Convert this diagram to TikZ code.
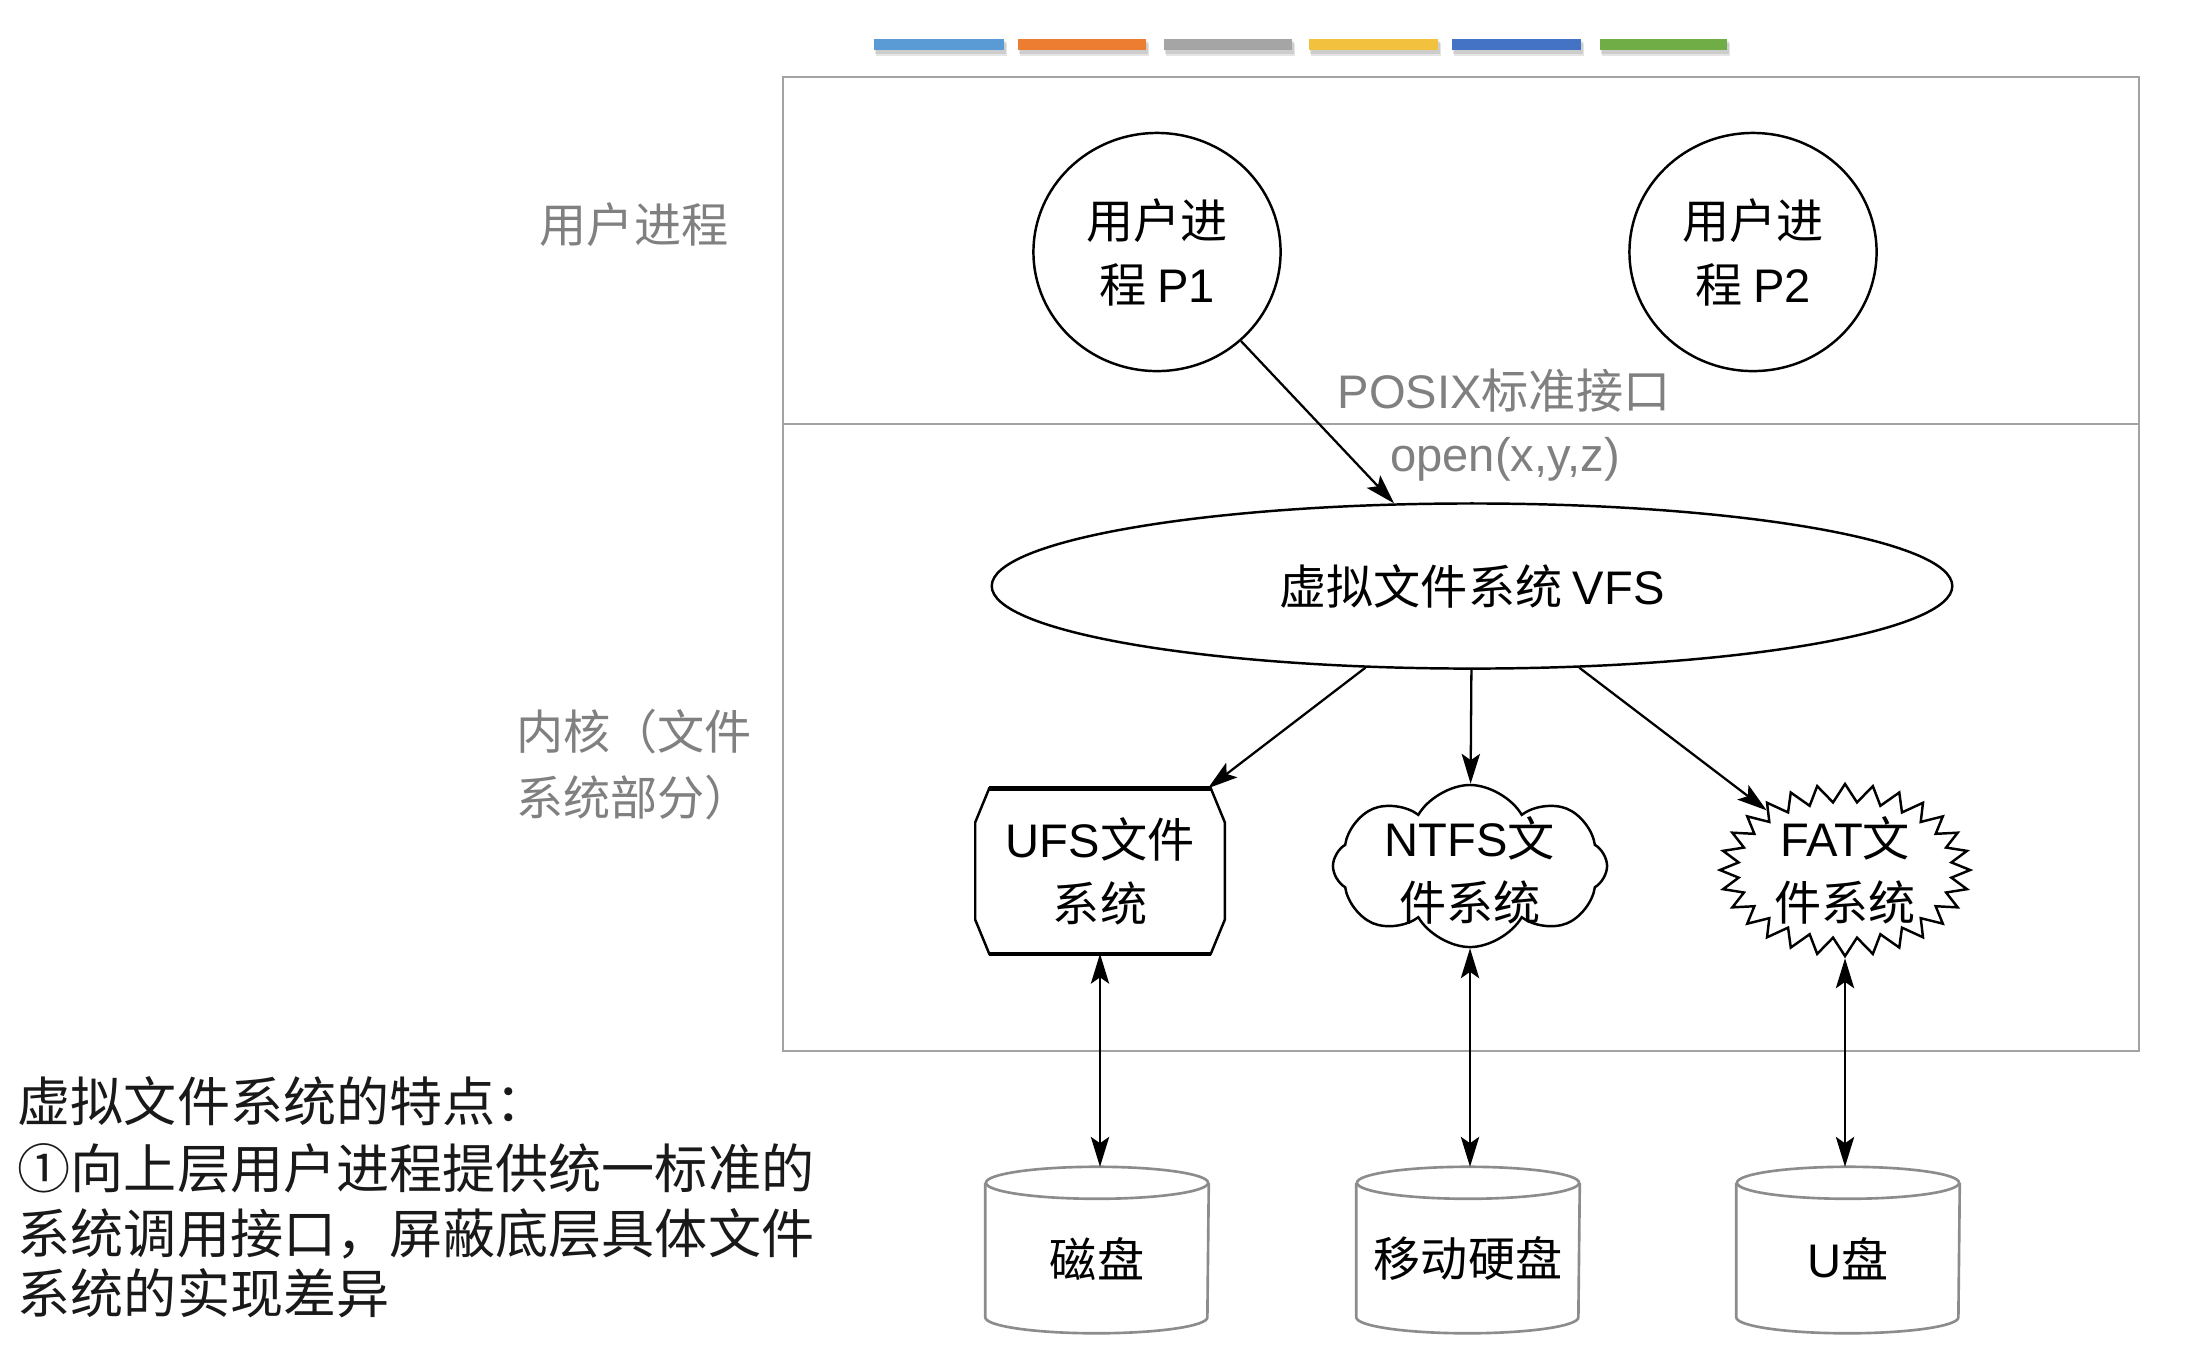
\documentclass[tikz,border=0pt]{standalone}
\usepackage{fontspec}
\setmainfont{Noto Sans CJK SC}
\newfontfamily\lat{Liberation Sans}
\usetikzlibrary{shapes.geometric,shapes.symbols,calc,arrows.meta}
\definecolor{framegray}{HTML}{A3A3A3}
\definecolor{labgray}{HTML}{808080}
\definecolor{cylgray}{HTML}{8C8C8C}
\definecolor{barA}{HTML}{5B9BD5}
\definecolor{barB}{HTML}{ED7D31}
\definecolor{barC}{HTML}{A5A5A5}
\definecolor{barD}{HTML}{F2C13E}
\definecolor{barE}{HTML}{4472C4}
\definecolor{barF}{HTML}{70AD47}
\newcommand\drawcyl[1]{%
  \draw[cylst] ($(#1.north west)+(0,16)$) -- ($(#1.south west)+(0,-16)$)
    arc[start angle=180,end angle=360,x radius=1.11cm,y radius=0.16cm]
    -- ($(#1.north east)+(0,16)$);
  \draw[cylst] ($(#1.north)+(0,16)$) ellipse[x radius=1.11cm,y radius=0.16cm];
}
\newcommand\lowered[1]{\raisebox{-2.4pt}[\height][\depth]{#1}}
\begin{document}
\begin{tikzpicture}[x=0.01cm,y=-0.01cm,
  nodefont/.style={font=\fontsize{13.4}{18.2}\selectfont},
  lab/.style={text=labgray,font=\fontsize{13.4}{18.8}\selectfont,inner sep=0pt},
  note/.style={text=black!90,font=\fontsize{15.1}{18}\selectfont,inner sep=0pt,anchor=west},
  proc/.style={ellipse,draw,line width=0.7pt,minimum width=2.47cm,minimum height=2.38cm,
    inner sep=0pt,align=center,nodefont},
  framest/.style={draw=framegray,line width=0.75pt},
  cylst/.style={draw=cylgray,line width=0.75pt},
  shp/.style={line width=0.7pt},
  disk/.style={nodefont,minimum width=2.22cm,minimum height=1.65cm,inner sep=0pt},
  tip/.tip={Stealth[length=8.5pt,width=5.2pt,inset=1.8pt]},
  arr/.style={-tip,line width=0.65pt},
  darr/.style={tip-tip,line width=0.65pt}]
\useasboundingbox (0,0) rectangle (2204,1356);
\fill[white] (0,0) rectangle (2204,1356);

% colour bars
\foreach \a/\b/\c in {874/1004/barA,1018/1146/barB,1164/1292/barC,1309/1438/barD,1452/1581/barE,1600/1727/barF}{
  \fill[black,opacity=0.10] (\a+1,41) rectangle (\b+2,54);
  \fill[black,opacity=0.10] (\a+2,43) rectangle (\b+3,56);
  \fill[\c] (\a,39) rectangle (\b,50);
}

% frame
\draw[framest] (783,77) rectangle (2139,1051);
\draw[framest] (783,424) -- (2139,424);

% side labels
\node[lab] (lu) at (634,225) {用户进程};
\node[lab,align=left] (lk) at (634,765) {内核（文件\\系统部分）};

% user processes
\node[proc] (p1) at (1157,252) {用户进\\程 {\lat P1}};
\node[proc] (p2) at (1753,252) {用户进\\程 {\lat P2}};

\node[lab] (posix) at (1504,391) {{\lat POSIX}标准接口};
\node[lab] (open) at (1505,459) {\lat open(x,y,z)};

% VFS
\node[ellipse,draw,line width=0.7pt,minimum width=9.6cm,minimum height=1.65cm,inner sep=0pt,nodefont] (vfs) at (1472,586) {虚拟文件系统 {\lat VFS}};

% UFS
\node[minimum width=2.48cm,minimum height=1.64cm,inner sep=0pt,align=center,nodefont] (ufs) at (1100,871) {{\lat UFS}文件\\系统};
\draw[shp] ($(ufs.north west)+(14,0)$) -- ($(ufs.north east)+(-14,0)$) -- ($(ufs.north east)+(0,34)$)
  -- ($(ufs.south east)+(0,-34)$) -- ($(ufs.south east)+(-14,0)$) -- ($(ufs.south west)+(14,0)$)
  -- ($(ufs.south west)+(0,-34)$) -- ($(ufs.north west)+(0,34)$) -- cycle;
\draw[line width=1.3pt] ($(ufs.north west)+(14,0)$) -- ($(ufs.north east)+(-14,0)$);
\draw[line width=1.3pt] ($(ufs.south west)+(14,0)$) -- ($(ufs.south east)+(-14,0)$);

% NTFS cloud
\node[cloud,draw,shp,cloud puffs=8,cloud puff arc=120,minimum width=2.74cm,minimum height=1.62cm,inner sep=0pt,shape border rotate=22.5] (ntfs) at (1470,866) {};
\node[nodefont,align=center,inner sep=0pt] (ntfst) at (1470,870) {{\lat NTFS}文\\件系统};

% FAT starburst
\node[starburst,draw,shp,starburst points=28,starburst point height=0.18cm,random starburst=0,minimum width=2.5cm,minimum height=1.72cm,inner sep=0pt] (fat) at (1845,870) {};
\node[nodefont,align=center,inner sep=0pt] (fatt) at (1845,870) {{\lat FAT}文\\件系统};

% disks
\node[disk] (d1) at (1097,1250) {\lowered{磁盘}};
\node[disk] (d2) at (1468,1250) {\lowered{移动硬盘}};
\node[disk] (d3) at (1848,1250) {\lowered{{\lat U}盘}};
\drawcyl{d1}
\drawcyl{d2}
\drawcyl{d3}

% connectors
\draw[arr] (p1) -- (vfs);
\draw[arr] (vfs) -- (ufs);
\draw[arr] (vfs) -- (ntfs);
\draw[arr] (vfs) -- (fat);
\draw[darr] (d1.north -| ufs.south) -- (ufs.south);
\draw[darr] (d2.north -| ntfs.south) -- (ntfs.south);
\draw[darr] (d3.north -| fat.south) -- (fat.south);

% notes
\node[note] (n1) at (17,1101) {虚拟文件系统的特点：};
\node[note] (n2) at (17,1168) {①向上层用户进程提供统一标准的};
\node[note] (n3) at (17,1234) {系统调用接口，屏蔽底层具体文件};
\node[note] (n4) at (17,1293) {系统的实现差异};
\end{tikzpicture}
\end{document}
